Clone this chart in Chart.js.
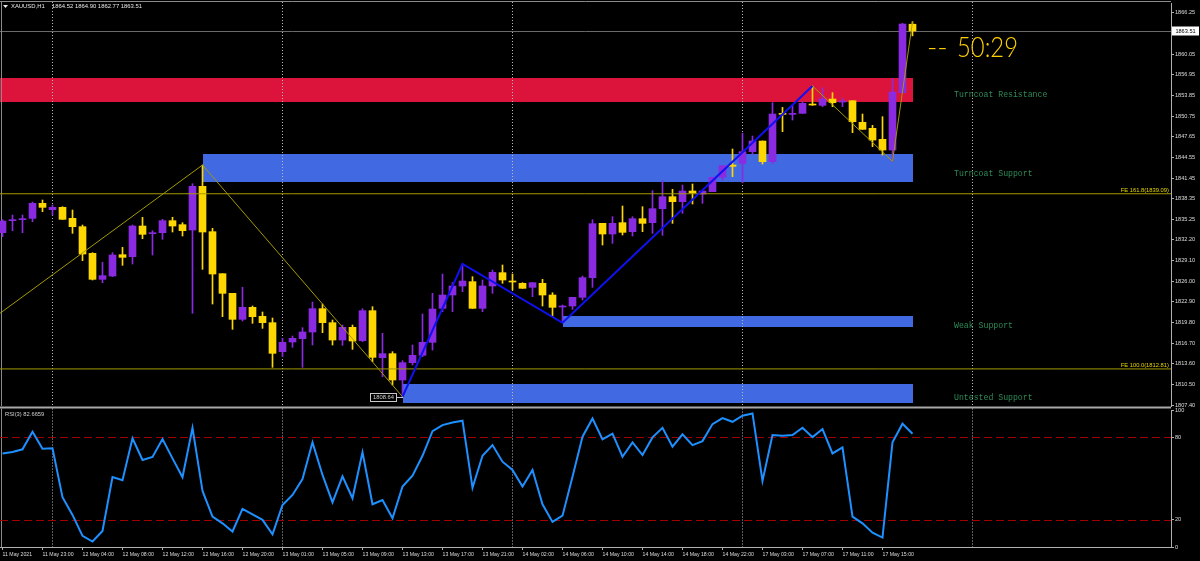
<!DOCTYPE html>
<html>
<head>
<meta charset="utf-8">
<script src="https://cdn.jsdelivr.net/npm/chart.js@4.4.1/dist/chart.umd.min.js"></script>
<style>
html,body{margin:0;padding:0;background:#000;width:1200px;height:561px;overflow:hidden;}
canvas{position:absolute;left:0;}
#main{top:0;}
#rsi{top:400px;}
</style>
</head>
<body>
<canvas id="main" width="1200" height="415" style="width:1200px;height:415px"></canvas>
<canvas id="rsi" width="1200" height="161" style="width:1200px;height:161px"></canvas>
<script>
// ---------------- DATA ----------------
const symbolLabel = 'XAUUSD,H1';
const openP = [1833.25,1835.05,1835.2,1835.4,1837.65,1836.7,1837.05,1835.4,1834.15,1830.15,
 1826.25,1826.75,1829.95,1829.65,1834.25,1833.1,1833.25,1835.05,1834.45,1833.65,
 1840.2,1833.4,1827.1,1824.15,1820.25,1822.05,1820.7,1819.75,1815.4,1816.85,
 1817.35,1818.35,1821.85,1819.75,1817.15,1819.05,1817.05,1821.55,1814.5,1815.1,
 1811.15,1813.75,1814.85,1816.8,1821.9,1823.9,1825.25,1825.9,1821.9,1825.25,
 1827.25,1825.95,1825.65,1825.05,1825.65,1823.9,1822.1,1822.25,1823.55,1826.5,
 1834.65,1833.05,1834.75,1833.4,1835.35,1834.75,1836.85,1838.65,1837.9,1839.5,
 1839.05,1839.4,1841.55,1843.4,1843.65,1845.4,1847.0,1843.9,1851.1,1851.0,
 1851.15,1852.55,1852.35,1853.3,1852.85,1853.05,1849.8,1848.9,1847.25,1845.65,
 1854.25,1864.52];
const highP = [1835.2,1835.9,1835.9,1837.85,1838.15,1837.4,1837.15,1836.65,1834.4,1830.25,
 1828.8,1830.25,1831.05,1834.4,1835.55,1833.55,1835.25,1835.55,1834.75,1840.6,
 1843.4,1833.9,1827.1,1824.15,1825.05,1822.25,1821.35,1820.45,1817.4,1817.75,
 1819.0,1822.85,1822.55,1820.15,1819.4,1819.4,1821.85,1822.15,1818.15,1815.4,
 1814.05,1816.4,1821.05,1824.15,1827.05,1825.75,1828.55,1826.65,1826.15,1827.65,
 1828.4,1827.05,1825.75,1825.75,1826.25,1824.25,1822.4,1823.55,1826.75,1835.2,
 1834.65,1835.65,1837.25,1835.65,1837.15,1839.55,1841.05,1839.75,1840.4,1840.55,
 1839.5,1841.55,1843.3,1845.8,1848.15,1847.75,1847.0,1852.75,1852.05,1852.4,
 1852.9,1855.25,1855.0,1854.25,1853.35,1853.05,1851.05,1849.35,1850.65,1856.35,
 1864.65,1864.90];
const lowP = [1832.65,1833.55,1833.25,1834.9,1836.4,1835.9,1835.25,1833.15,1829.05,1826.15,
 1825.75,1826.65,1828.35,1828.55,1832.35,1829.9,1832.25,1833.35,1832.75,1821.15,
 1827.75,1822.55,1820.65,1818.75,1820.0,1819.65,1818.9,1813.05,1814.65,1816.05,
 1813.05,1816.4,1818.25,1816.4,1816.35,1815.75,1816.9,1813.9,1811.65,1810.4,
 1808.64,1813.4,1814.65,1815.65,1821.4,1821.4,1824.4,1821.9,1821.4,1824.15,
 1825.65,1824.65,1824.9,1823.65,1822.25,1820.65,1819.74,1821.75,1823.15,1825.05,
 1831.4,1831.65,1832.9,1832.75,1833.4,1833.15,1832.85,1834.65,1836.15,1837.55,
 1837.65,1839.4,1841.15,1841.65,1840.75,1845.05,1843.55,1843.65,1848.4,1850.15,
 1851.15,1852.35,1852.15,1852.15,1852.15,1848.25,1848.75,1846.15,1844.9,1843.95,
 1854.15,1862.77];
const closeP = [1835.0,1835.15,1835.3,1837.65,1837.05,1837.05,1835.25,1834.15,1830.05,1826.25,
 1826.8,1829.9,1829.55,1834.25,1833.0,1833.15,1835.05,1834.25,1833.55,1840.2,
 1833.35,1827.05,1824.15,1820.25,1822.05,1820.65,1819.75,1815.15,1816.8,1817.4,
 1818.35,1821.85,1819.75,1817.15,1819.05,1817.0,1821.55,1814.55,1815.1,1811.15,
 1813.75,1814.85,1816.8,1821.8,1823.9,1825.25,1826.0,1821.9,1825.25,1827.3,
 1826.15,1825.85,1824.9,1825.75,1823.9,1822.05,1822.2,1823.55,1826.5,1834.6,
 1833.05,1834.65,1833.3,1835.35,1834.65,1836.85,1838.65,1837.9,1839.5,1839.2,
 1839.5,1841.55,1843.3,1843.2,1845.4,1847.0,1843.9,1851.05,1851.0,1851.15,
 1852.65,1852.4,1853.3,1852.75,1852.95,1849.9,1848.75,1847.15,1845.65,1854.35,
 1864.55,1863.51];
const rsiName = 'RSI(3)';
const rsiVals = [68.3,69.3,71.3,84.1,71.7,72.0,36.3,23.4,8.1,4.0,
 11.7,51.1,48.7,79.3,63.5,65.7,78.8,64.7,50.9,87.0,
 40.9,22.2,17.3,11.3,27.8,23.9,19.8,9.3,30.7,38.0,
 49.6,76.4,52.6,32.6,51.6,35.6,69.1,31.2,34.3,21.0,
 44.1,52.1,66.6,84.6,89.0,90.9,92.2,43.3,66.6,74.4,
 62.3,56.2,44.1,56.2,31.2,18.3,22.9,51.3,80.5,93.8,
 78.5,82.7,65.9,76.4,67.1,80.0,87.0,73.2,82.2,74.4,
 77.3,89.7,94.1,91.4,95.8,97.5,48.2,81.7,81.2,81.7,
 87.0,80.2,86.1,68.3,72.7,22.2,17.3,10.5,6.9,76.4,
 90.0,82.6659];
const rsiLevels = [80, 20];
const rsiTicks = [0, 20, 80, 100];
const xTickIndex = [0,4,8,12,16,20,24,28,32,36,40,44,48,52,56,60,64,68,72,76,80,84,88];
const xTickLabels = ['11 May 2021','11 May 23:00','12 May 04:00','12 May 08:00','12 May 12:00','12 May 16:00',
 '12 May 20:00','13 May 01:00','13 May 05:00','13 May 09:00','13 May 13:00','13 May 17:00','13 May 21:00',
 '14 May 02:00','14 May 06:00','14 May 10:00','14 May 14:00','14 May 18:00','14 May 22:00',
 '17 May 03:00','17 May 07:00','17 May 11:00','17 May 15:00'];
const daySeparators = [5, 28, 51, 74, 97];
const priceTicks = [1866.25,1863.15,1860.05,1856.95,1853.85,1850.75,1847.65,1844.55,1841.45,1838.35,
 1835.25,1832.20,1829.10,1826.00,1822.90,1819.80,1816.70,1813.60,1810.50,1807.40];
const zoneNames = ['Turncoat Resistance','Turncoat Support','Weak Support','Untested Support'];
const zoneFrom = [-1, 20, 56, 40];
const zoneTo = [91, 91, 91, 91];
const zoneLow = [1852.81, 1840.78, 1819.14, 1807.65];
const zoneHigh = [1856.50, 1845.04, 1820.75, 1810.55];
const feNames = ['FE 161.8', 'FE 100.0'];
const feLevels = [1839.09, 1812.81];
const zzLeftIdx = [-0.25, 20, 40];
const zzLeftPrice = [1821.16, 1843.4, 1808.64];
const zzBlueIdx = [40, 46, 56, 81];
const zzBluePrice = [1808.64, 1828.55, 1819.74, 1855.25];
const zzRightIdx = [81, 89, 91];
const zzRightPrice = [1855.25, 1843.95, 1864.90];
const lastPrice = 1863.51;
const timerText = '50:29';

// ---------------- STYLE ----------------
const X_MIN = -0.25, X_MAX = 116.85;
const BULL = '#8A2BE2', BEAR = '#FFD700', OLIVE = '#A39A00';
const ZONE_COLORS = ['#DC143C', '#4169E1', '#4169E1', '#4169E1'];
const ZONE_LABEL_X = 95.15;
const ZONE_LABEL_DY = [-7, -9, -1, -5.5];
const AXIS_COL = '#b0b0b0', TXT_COL = '#dcdcdc';
const SANS = '"Liberation Sans", Arial, sans-serif';

const isBull = i => closeP[i] >= openP[i];
const candleColor = c => isBull(c.dataIndex) ? BULL : BEAR;
const idx = openP.map((_, i) => i);
const pts = (xs, ys) => xs.map((v, i) => ({x: v, y: ys[i]}));

const fixScaleY = s => { s.paddingTop = 0; s.paddingBottom = 0; };

// ---------------- MAIN OVERLAY ----------------
const mainOverlay = {
  id: 'mainOverlay',
  beforeDatasetsDraw(chart) {
    const {ctx, chartArea: a, scales: {x, y}} = chart;
    ctx.save();
    ctx.beginPath(); ctx.rect(a.left, a.top, a.right - a.left, a.bottom - a.top); ctx.clip();
    zoneLow.forEach((lo, i) => {
      const x0 = Math.round(x.getPixelForValue(zoneFrom[i]));
      const x1 = Math.round(x.getPixelForValue(zoneTo[i]));
      const y0 = Math.round(y.getPixelForValue(zoneHigh[i]));
      const y1 = Math.round(y.getPixelForValue(lo));
      ctx.fillStyle = ZONE_COLORS[i];
      ctx.fillRect(x0, y0, x1 - x0, y1 - y0);
    });
    const py = Math.round(y.getPixelForValue(lastPrice)) + 0.5;
    ctx.strokeStyle = '#6a6a6a'; ctx.lineWidth = 1;
    ctx.beginPath(); ctx.moveTo(a.left, py); ctx.lineTo(a.right, py); ctx.stroke();
    ctx.restore();
    // frame
    ctx.save();
    ctx.strokeStyle = '#8a8a8a'; ctx.lineWidth = 1;
    ctx.beginPath(); ctx.moveTo(0, 1.5); ctx.lineTo(a.right, 1.5); ctx.stroke();
    ctx.beginPath(); ctx.moveTo(1.5, 1.5); ctx.lineTo(1.5, a.bottom); ctx.stroke();
    // day separators
    ctx.strokeStyle = '#b8b8b8'; ctx.setLineDash([1, 2]);
    daySeparators.forEach(k => {
      const px = Math.floor(x.getPixelForValue(k)) + 0.5;
      if (px > a.right) return;
      ctx.beginPath(); ctx.moveTo(px, 2); ctx.lineTo(px, a.bottom); ctx.stroke();
    });
    ctx.restore();
  },
  afterDatasetsDraw(chart) {
    const {ctx, chartArea: a, scales: {x, y}} = chart;
    ctx.save();
    // zone labels
    ctx.font = '8.2px "Liberation Mono", monospace';
    ctx.fillStyle = '#2E8B57'; ctx.textBaseline = 'middle'; ctx.textAlign = 'left';
    zoneNames.forEach((n, i) => {
      ctx.fillText(n, x.getPixelForValue(ZONE_LABEL_X), y.getPixelForValue(zoneLow[i]) + ZONE_LABEL_DY[i]);
    });
    // FE labels
    ctx.font = '5.8px ' + SANS; ctx.fillStyle = '#E6D600';
    ctx.textAlign = 'right'; ctx.textBaseline = 'bottom';
    feLevels.forEach((v, i) => {
      ctx.fillText(feNames[i] + '(' + v.toFixed(2) + ')', a.right - 2, y.getPixelForValue(v) - 0.5);
    });
    // low price label
    const lx = x.getPixelForValue(zzBlueIdx[0]), ly = y.getPixelForValue(zzBluePrice[0]);
    ctx.strokeStyle = '#c8c8c8'; ctx.lineWidth = 1;
    ctx.strokeRect(Math.round(lx) - 32.5, Math.round(ly) - 3.5, 26, 8);
    ctx.beginPath(); ctx.moveTo(Math.round(lx) - 6.5, Math.round(ly) + 0.5); ctx.lineTo(Math.round(lx), Math.round(ly) + 0.5); ctx.stroke();
    ctx.fillStyle = '#d0d0d0'; ctx.textAlign = 'center'; ctx.textBaseline = 'middle';
    ctx.font = '5.8px ' + SANS;
    ctx.fillText(zzBluePrice[0].toFixed(2), Math.round(lx) - 19.5, Math.round(ly) + 0.8);
    // countdown
    ctx.fillStyle = '#FFD000'; ctx.textAlign = 'left'; ctx.textBaseline = 'alphabetic';
    ctx.font = '300 28px Lato, "Open Sans", sans-serif';
    const tx = x.getPixelForValue(95.45);
    ctx.fillText('--', tx - 30, 56.5);
    const w = ctx.measureText(timerText).width;
    ctx.save(); ctx.translate(tx, 56.5); ctx.scale(61 / w, 1); ctx.fillText(timerText, 0, 0); ctx.restore();
    // title
    ctx.fillStyle = '#e8e8e8';
    ctx.beginPath(); ctx.moveTo(3, 5); ctx.lineTo(8, 5); ctx.lineTo(5.5, 8); ctx.closePath(); ctx.fill();
    ctx.font = '5.9px ' + SANS; ctx.textBaseline = 'middle';
    ctx.fillText(symbolLabel, 11, 6.5);
    const n = openP.length - 1;
    ctx.fillText([openP[n], highP[n], lowP[n], closeP[n]].map(v => v.toFixed(2)).join(' '), 52, 6.5);
    // price box on axis
    const py = y.getPixelForValue(lastPrice);
    ctx.fillStyle = '#ffffff';
    ctx.fillRect(a.right + 1, Math.round(py) - 4.5, 27, 9);
    ctx.fillStyle = '#000000'; ctx.textAlign = 'center';
    ctx.font = '5.6px ' + SANS;
    ctx.fillText(lastPrice.toFixed(2), a.right + 14.5, py + 0.3);
    ctx.restore();
  }
};

// ---------------- MAIN CHART ----------------
new Chart(document.getElementById('main'), {
  type: 'bar',
  data: {
    datasets: [
      {type: 'line', data: pts(zzLeftIdx, zzLeftPrice), borderColor: OLIVE, borderWidth: 1, pointRadius: 0, order: 0},
      {type: 'line', data: pts(zzBlueIdx, zzBluePrice), borderColor: '#1010F0', borderWidth: 2, pointRadius: 0, order: 0},
      {type: 'line', data: pts(zzRightIdx, zzRightPrice), borderColor: OLIVE, borderWidth: 1, pointRadius: 0, order: 0},
      ...feLevels.map(v => ({type: 'line', data: [{x: X_MIN, y: v}, {x: X_MAX, y: v}], borderColor: OLIVE, borderWidth: 1, pointRadius: 0, order: 0})),
      {type: 'bar', data: idx.map(i => ({x: i, y: [openP[i], closeP[i]]})), backgroundColor: candleColor,
        barThickness: 7, minBarLength: 1, grouped: false, borderWidth: 0, order: 1},
      {type: 'bar', data: idx.map(i => ({x: i, y: [lowP[i], highP[i]]})), backgroundColor: candleColor,
        barThickness: 1, minBarLength: 1, grouped: false, borderWidth: 0, order: 2}
    ]
  },
  options: {
    responsive: false, animation: false, events: [],
    layout: {padding: {left: 0, right: 0, top: 3, bottom: 9}},
    plugins: {legend: {display: false}, tooltip: {enabled: false}},
    scales: {
      x: {type: 'linear', min: X_MIN, max: X_MAX, offset: false, display: false, grid: {offset: false}},
      y: {
        position: 'right', min: 1807.25, max: 1867.705,
        afterBuildTicks: s => { s.ticks = priceTicks.map(v => ({value: v})); },
        afterFit: s => { s.width = 29; fixScaleY(s); },
        ticks: {autoSkip: false, color: TXT_COL, padding: 1, font: {family: SANS, size: 5.6},
          callback: v => Number(v).toFixed(2)},
        grid: {drawOnChartArea: false, drawTicks: true, tickLength: 3, color: AXIS_COL},
        border: {color: AXIS_COL}
      }
    }
  },
  plugins: [mainOverlay]
});

// ---------------- RSI OVERLAY ----------------
const rsiOverlay = {
  id: 'rsiOverlay',
  beforeDatasetsDraw(chart) {
    const {ctx, chartArea: a, scales: {x, y}} = chart;
    ctx.save();
    ctx.fillStyle = '#a8a8a8';
    ctx.fillRect(0, 6.5, a.right, 2);
    ctx.strokeStyle = '#8a8a8a'; ctx.lineWidth = 1;
    ctx.beginPath(); ctx.moveTo(1.5, 8.5); ctx.lineTo(1.5, a.bottom); ctx.stroke();
    ctx.strokeStyle = '#b8b8b8'; ctx.setLineDash([1, 2]);
    daySeparators.forEach(k => {
      const px = Math.floor(x.getPixelForValue(k)) + 0.5;
      if (px > a.right) return;
      ctx.beginPath(); ctx.moveTo(px, 8.5); ctx.lineTo(px, a.bottom); ctx.stroke();
    });
    ctx.strokeStyle = '#A00000'; ctx.setLineDash([8, 4]);
    rsiLevels.forEach(v => {
      const py = Math.round(y.getPixelForValue(v)) + 0.5;
      ctx.beginPath(); ctx.moveTo(a.left, py); ctx.lineTo(a.right, py); ctx.stroke();
    });
    ctx.restore();
  },
  afterDatasetsDraw(chart) {
    const {ctx} = chart;
    ctx.save();
    ctx.fillStyle = '#d0d0d0'; ctx.font = '5.8px ' + SANS;
    ctx.textBaseline = 'middle'; ctx.textAlign = 'left';
    ctx.fillText(rsiName + ' ' + rsiVals[rsiVals.length - 1].toFixed(4), 5, 14);
    ctx.restore();
  }
};

// ---------------- RSI CHART ----------------
new Chart(document.getElementById('rsi'), {
  type: 'line',
  data: {datasets: [{data: rsiVals.map((v, i) => ({x: i, y: v})), borderColor: '#1E90FF', borderWidth: 2,
    pointRadius: 0, tension: 0}]},
  options: {
    responsive: false, animation: false, events: [],
    layout: {padding: {left: 0, right: 0, top: 10, bottom: 0}},
    plugins: {legend: {display: false}, tooltip: {enabled: false}},
    scales: {
      x: {
        type: 'linear', min: X_MIN, max: X_MAX, offset: false, position: 'bottom',
        afterBuildTicks: s => { s.ticks = xTickIndex.map(v => ({value: v})); },
        afterFit: s => { s.height = 14; s.paddingLeft = 0; s.paddingRight = 0; },
        ticks: {autoSkip: false, maxRotation: 0, minRotation: 0, align: 'start', padding: 1,
          color: TXT_COL, font: {family: SANS, size: 5.2}, callback: (v, i) => xTickLabels[i]},
        grid: {drawOnChartArea: false, drawTicks: true, tickLength: 3, color: AXIS_COL},
        border: {color: AXIS_COL}
      },
      y: {
        position: 'right', min: 0, max: 100,
        afterBuildTicks: s => { s.ticks = rsiTicks.map(v => ({value: v})); },
        afterFit: s => { s.width = 29; fixScaleY(s); },
        ticks: {autoSkip: false, color: TXT_COL, padding: 1, font: {family: SANS, size: 5.6},
          callback: v => String(v)},
        grid: {drawOnChartArea: false, drawTicks: true, tickLength: 3, color: AXIS_COL},
        border: {color: AXIS_COL}
      }
    }
  },
  plugins: [rsiOverlay]
});
</script>
</body>
</html>
